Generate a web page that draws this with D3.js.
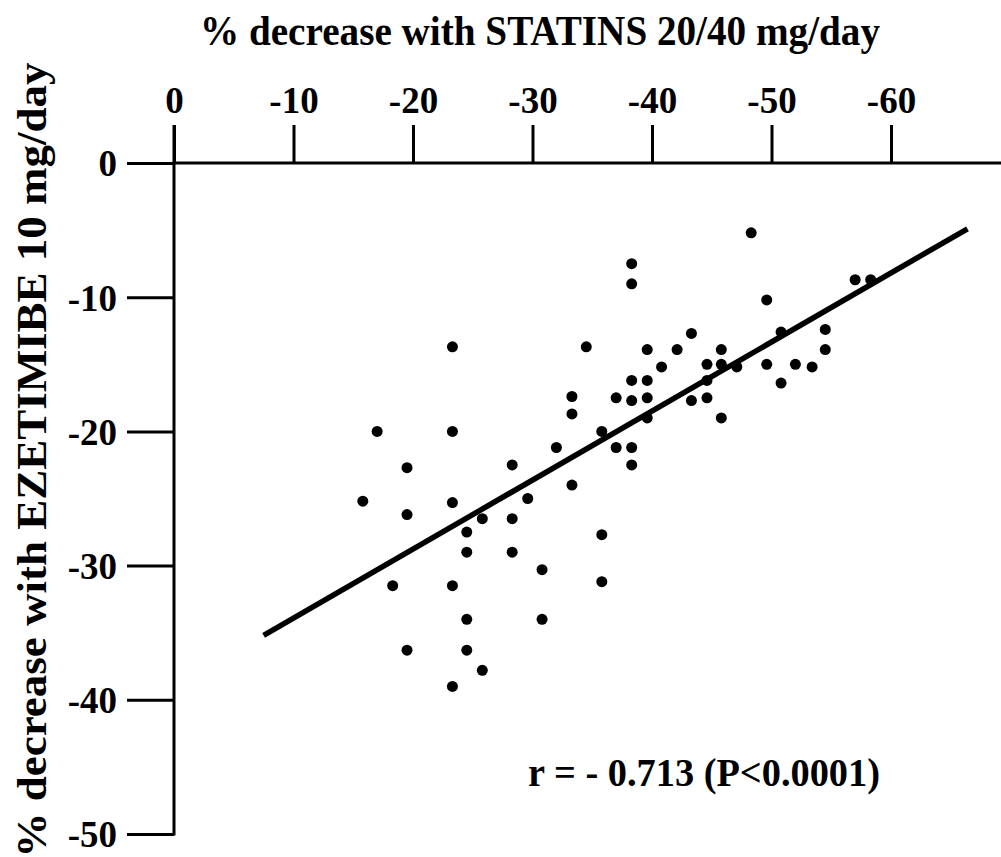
<!DOCTYPE html>
<html>
<head>
<meta charset="utf-8">
<script src="https://cdn.jsdelivr.net/npm/d3@7"></script>
<style>
  body { margin: 0; background: #fff; }
  svg { display: block; font-family: "Liberation Serif", "Times New Roman", serif; font-weight: bold; }
</style>
</head>
<body>
<div id="chart"></div>
<script>
// % decrease with statins (x) and with ezetimibe (y), one entry per patient
var statins = [-15.8, -17.0, -18.3, -19.5, -19.5, -19.5, -23.3, -23.3, -23.3, -23.3,
               -23.3, -24.5, -24.5, -24.5, -24.5, -25.8, -25.8, -28.3, -28.3, -28.3,
               -29.6, -30.8, -30.8, -32.0, -33.3, -33.3, -33.3, -34.5, -35.8, -35.8,
               -35.8, -37.0, -37.0, -38.3, -38.3, -38.3, -38.3, -38.3, -38.3, -39.6,
               -39.6, -39.6, -39.6, -40.8, -42.1, -43.3, -43.3, -44.6, -44.6, -44.6,
               -45.8, -45.8, -45.8, -47.1, -48.3, -49.6, -49.6, -50.8, -50.8, -52.0,
               -53.4, -54.5, -54.5, -57.0, -58.3];
var ezetimibe = [-25.2, -20.0, -31.5, -22.7, -26.2, -36.3, -13.7, -20.0, -25.3, -31.5,
                 -39.0, -27.5, -29.0, -34.0, -36.3, -26.5, -37.8, -22.5, -26.5, -29.0,
                 -25.0, -30.3, -34.0, -21.2, -17.4, -18.7, -24.0, -13.7, -20.0, -27.7,
                 -31.2, -17.5, -21.2, -7.5, -9.0, -16.2, -17.7, -21.2, -22.5, -13.9,
                 -16.2, -17.5, -19.0, -15.2, -13.9, -12.7, -17.7, -15.0, -16.2, -17.5,
                 -13.9, -15.0, -19.0, -15.2, -5.2, -10.2, -15.0, -12.6, -16.4, -15.0,
                 -15.2, -12.4, -13.9, -8.7, -8.7];

var xTicks = [0, -10, -20, -30, -40, -50, -60];
var yTicks = [0, -10, -20, -30, -40, -50];

// ends of the regression line as drawn
var fitX = [-7.5, -66.4];
var fitY = [-35.2, -4.9];

var width = 1001, height = 857;

var x = d3.scaleLinear().domain([0, -60]).range([174, 891]),
    y = d3.scaleLinear().domain([0, -50]).range([163, 834]);

var svg = d3.select("#chart").append("svg")
    .attr("width", width)
    .attr("height", height);

// title
svg.append("text")
    .attr("x", 540)
    .attr("y", 45)
    .attr("text-anchor", "middle")
    .attr("font-size", 43)
    .attr("textLength", 680)
    .attr("lengthAdjust", "spacingAndGlyphs")
    .text("% decrease with STATINS 20/40 mg/day");

// y label
svg.append("text")
    .attr("transform", "translate(46,460)rotate(-90)")
    .attr("text-anchor", "middle")
    .attr("font-size", 42)
    .attr("textLength", 795)
    .attr("lengthAdjust", "spacingAndGlyphs")
    .text("% decrease with EZETIMIBE 10 mg/day");

// top axis
var xAxis = svg.append("g")
    .attr("transform", "translate(0," + y(0) + ")")
    .call(d3.axisTop(x)
        .tickValues(xTicks)
        .tickSize(38)
        .tickSizeOuter(0)
        .tickPadding(12)
        .tickFormat(function (d) { return String(d); }));

// left axis
var yAxis = svg.append("g")
    .attr("transform", "translate(" + x(0) + ",0)")
    .call(d3.axisLeft(y)
        .tickValues(yTicks)
        .tickSize(47)
        .tickSizeOuter(0)
        .tickPadding(10)
        .tickFormat(function (d) { return String(d); }));

[xAxis, yAxis].forEach(function (a) {
    a.select(".domain").remove();
    a.selectAll("line").attr("stroke", "#000").attr("stroke-width", 3);
    a.selectAll("text")
        .attr("fill", "#000")
        .attr("font-size", 37)
        .attr("font-family", "Liberation Serif, serif")
        .attr("font-weight", "bold");
});
yAxis.selectAll("text").attr("dy", "0.35em");

// axis lines
svg.append("line")
    .attr("x1", x(0)).attr("x2", width)
    .attr("y1", y(0)).attr("y2", y(0))
    .attr("stroke", "#000").attr("stroke-width", 3);

svg.append("line")
    .attr("x1", x(0)).attr("x2", x(0))
    .attr("y1", y(0) - 38).attr("y2", y(-50) + 1.5)
    .attr("stroke", "#000").attr("stroke-width", 3);

// regression line
svg.append("line")
    .attr("x1", x(fitX[0])).attr("y1", y(fitY[0]))
    .attr("x2", x(fitX[1])).attr("y2", y(fitY[1]))
    .attr("stroke", "#000")
    .attr("stroke-width", 5.5);

// points
svg.selectAll(".dot")
    .data(d3.range(statins.length))
    .enter().append("circle")
    .attr("class", "dot")
    .attr("cx", function (i) { return x(statins[i]); })
    .attr("cy", function (i) { return y(ezetimibe[i]); })
    .attr("r", 5.5)
    .attr("fill", "#000");

// correlation
svg.append("text")
    .attr("x", 528)
    .attr("y", 786)
    .attr("font-size", 40)
    .attr("textLength", 352)
    .attr("lengthAdjust", "spacingAndGlyphs")
    .text("r = - 0.713 (P<0.0001)");
</script>
</body>
</html>
